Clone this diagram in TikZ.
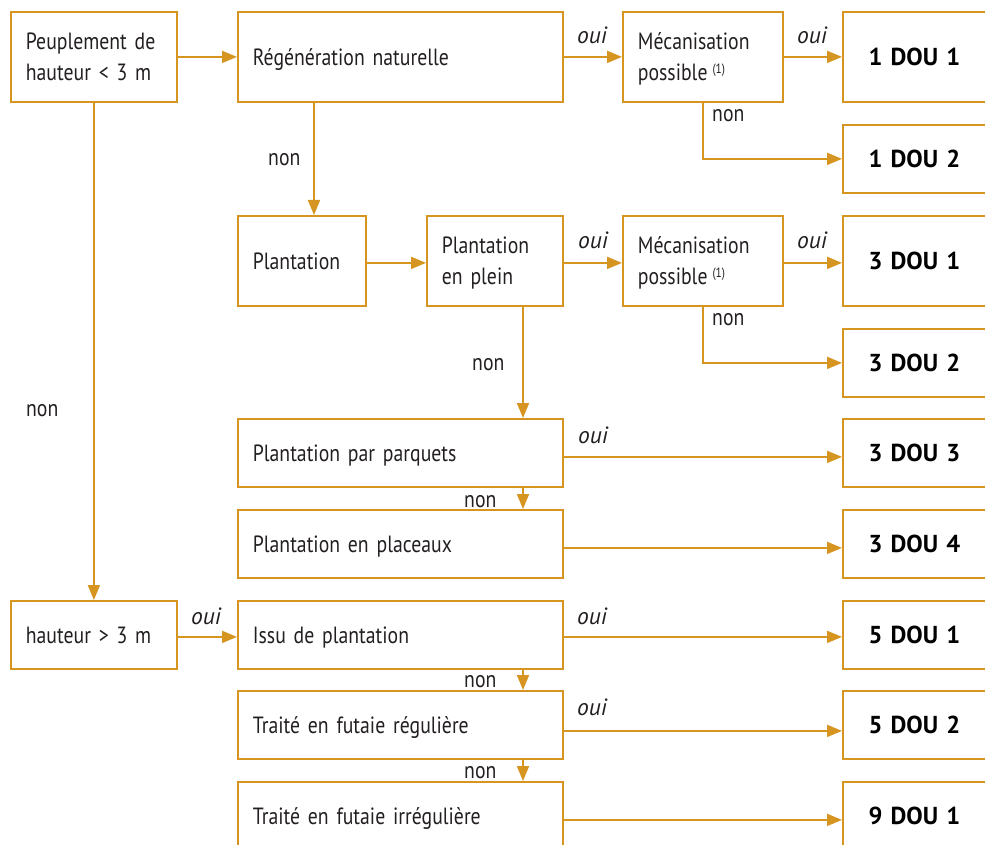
\documentclass[tikz,border=0pt]{standalone}
\usepackage{fontspec}
\setmainfont{PT Sans}
\newfontfamily\cnd{PT Sans}[FakeStretch=0.84]
\usetikzlibrary{arrows.meta}
\definecolor{gold}{RGB}{214,148,32}
\definecolor{ink}{RGB}{35,31,32}
\newcommand{\fs}{\fontsize{23.5}{31}\selectfont}
\newcommand{\fsb}{\fontsize{24.5}{31}\selectfont}
\newcommand{\refone}{\hspace{5pt}{\fontsize{13.5}{13.5}\selectfont\raisebox{7pt}{(1)}}}
\tikzset{
  boxbase/.style={draw=gold, line width=1.8pt, anchor=north west, inner ysep=0pt, inner xsep=15pt, text=ink},
  lbox/.style={boxbase, align=left, font=\cnd\fs, text height=17pt, text depth=0pt},
  lboxtwo/.style={boxbase, align=left, font=\cnd\fs, text height=17pt, text depth=31pt},
  dbox/.style={boxbase, align=center, font=\bfseries\fsb, text=black, text height=17pt, text depth=0pt},
  arr/.style={draw=gold, line width=1.8pt, -{Triangle[length=15pt,width=12pt]}},
  nonlab/.style={anchor=base west, inner sep=0pt, font=\cnd\fs, text=ink},
  ouilab/.style={anchor=base west, inner sep=0pt, font=\itshape\fs, text=ink}
}
\begin{document}
\begin{tikzpicture}[x=1pt,y=-1pt]
\useasboundingbox (0,0) rectangle (985,845);
% boxes
\node[lboxtwo, text width=136pt, minimum height=90pt] (A) at (10,11) {Peuplement de\\hauteur < 3 m};
\node[lbox, text width=295pt, minimum height=90pt] (B) at (237,11) {Régénération naturelle};
\node[lboxtwo, text width=130pt, minimum height=90pt] (M1) at (622,11) {Mécanisation\\possible\refone};
\node[dbox, text width=113pt, minimum height=90pt] (D11) at (842,11) {1 DOU 1};
\node[dbox, text width=113pt, minimum height=68pt] (D12) at (842,124) {1 DOU 2};
\node[lbox, text width=98pt, minimum height=90pt] (Pl) at (237,215) {Plantation};
\node[lboxtwo, text width=106pt, minimum height=90pt] (PP) at (426,215) {Plantation\\en plein};
\node[lboxtwo, text width=130pt, minimum height=90pt] (M2) at (622,215) {Mécanisation\\possible\refone};
\node[dbox, text width=113pt, minimum height=90pt] (D31) at (842,215) {3 DOU 1};
\node[dbox, text width=113pt, minimum height=68pt] (D32) at (842,328) {3 DOU 2};
\node[lbox, text width=295pt, minimum height=68pt] (Parq) at (237,418) {Plantation par parquets};
\node[dbox, text width=113pt, minimum height=68pt] (D33) at (842,418) {3 DOU 3};
\node[lbox, text width=295pt, minimum height=68pt] (Plac) at (237,509) {Plantation en placeaux};
\node[dbox, text width=113pt, minimum height=68pt] (D34) at (842,509) {3 DOU 4};
\node[lbox, text width=136pt, minimum height=68pt] (H) at (10,600) {hauteur > 3 m};
\node[lbox, text width=295pt, minimum height=68pt] (Issu) at (237,600) {Issu de plantation};
\node[dbox, text width=113pt, minimum height=68pt] (D51) at (842,600) {5 DOU 1};
\node[lbox, text width=295pt, minimum height=68pt] (TR) at (237,690) {Traité en futaie régulière};
\node[dbox, text width=113pt, minimum height=68pt] (D52) at (842,690) {5 DOU 2};
\node[lbox, text width=295pt, minimum height=68pt] (TI) at (237,781) {Traité en futaie irrégulière};
\node[dbox, text width=113pt, minimum height=68pt] (D91) at (842,781) {9 DOU 1};
% connectors
\draw[arr] (A.east) -- (B.west);
\draw[arr] (B.east) -- (M1.west);
\draw[arr] (M1.east) -- (D11.west);
\draw[arr] (M1.south) |- (D12.west);
\draw[arr] (B.south -| 314,0) -- (Pl.north -| 314,0);
\draw[arr] ([yshift=-2pt]Pl.east) -- ([yshift=-2pt]Pl.east -| PP.west);
\draw[arr] ([yshift=-2pt]PP.east) -- ([yshift=-2pt]PP.east -| M2.west);
\draw[arr] ([yshift=-2pt]M2.east) -- ([yshift=-2pt]M2.east -| D31.west);
\draw[arr] (M2.south) |- (D32.west);
\draw[arr] (PP.south -| 523,0) -- (Parq.north -| 523,0);
\draw[arr] ([yshift=-4pt]Parq.east) -- ([yshift=-4pt]Parq.east -| D33.west);
\draw[arr] (Parq.south -| 523,0) -- (Plac.north -| 523,0);
\draw[arr] ([yshift=-4pt]Plac.east) -- ([yshift=-4pt]Plac.east -| D34.west);
\draw[arr] (A.south) -- (H.north);
\draw[arr] ([yshift=-2pt]H.east) -- ([yshift=-2pt]H.east -| Issu.west);
\draw[arr] ([yshift=-2pt]Issu.east) -- ([yshift=-2pt]Issu.east -| D51.west);
\draw[arr] (Issu.south -| 523,0) -- (TR.north -| 523,0);
\draw[arr] ([yshift=-6pt]TR.east) -- ([yshift=-6pt]TR.east -| D52.west);
\draw[arr] (TR.south -| 523,0) -- (TI.north -| 523,0);
\draw[arr] ([yshift=-4pt]TI.east) -- ([yshift=-4pt]TI.east -| D91.west);
% labels
\node[ouilab] (o1) at (577,44) {oui};
\node[ouilab] (o2) at (797,44) {oui};
\node[nonlab] (n1) at (712,122) {non};
\node[nonlab] (n2) at (268,166) {non};
\node[ouilab] (o3) at (578,248) {oui};
\node[ouilab] (o4) at (797,248) {oui};
\node[nonlab] (n3) at (712,325) {non};
\node[nonlab] (n4) at (472,370) {non};
\node[ouilab] (o5) at (578,443) {oui};
\node[nonlab] (n5) at (464,507) {non};
\node[nonlab] (n6) at (26,416) {non};
\node[ouilab] (o6) at (191,624) {oui};
\node[ouilab] (o7) at (577,624) {oui};
\node[nonlab] (n7) at (464,687) {non};
\node[ouilab] (o8) at (577,715) {oui};
\node[nonlab] (n8) at (464,778) {non};
\end{tikzpicture}
\end{document}
